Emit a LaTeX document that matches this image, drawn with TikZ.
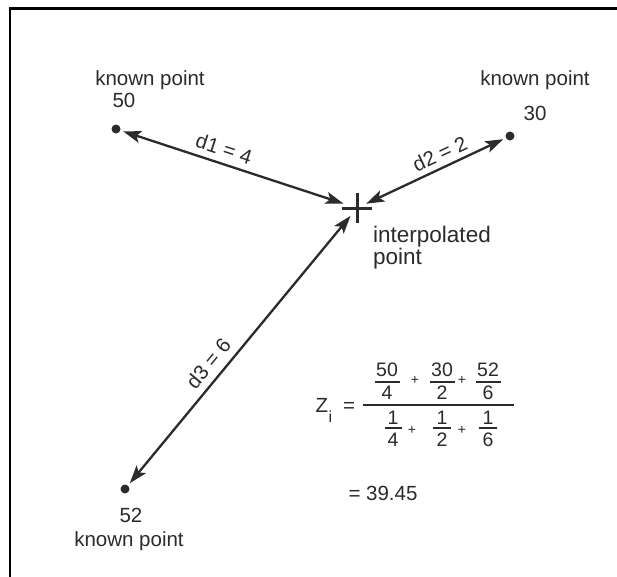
\documentclass[tikz,border=0pt]{standalone}
\usepackage{fontspec}
\setmainfont{Liberation Sans}
\usetikzlibrary{arrows.meta}
\definecolor{ink}{HTML}{2B2B2B}
\begin{document}
\begin{tikzpicture}[x=1pt,y=-1pt,
  font=\fontsize{20.5}{22}\selectfont,
  dot/.style={circle, fill=ink, inner sep=0pt, minimum size=9pt, outer sep=3pt},
  dist/.style={draw=ink, line width=2.3pt,
    {Stealth[length=18pt,width=12pt,inset=4pt]}-{Stealth[length=18pt,width=12pt,inset=4pt]}},
  lbl/.style={text=ink, inner sep=1pt},
  fr/.style={text=ink, inner sep=0pt, font=\fontsize{19.5}{20}\selectfont},
  plus/.style={text=ink, inner sep=0pt, font=\fontsize{14}{14}\selectfont},
  fbar/.style={draw=ink, line width=2pt},
  bigbar/.style={draw=ink, line width=2.6pt}]
\useasboundingbox (0,0) rectangle (617,576);
\fill[white] (0,0) rectangle (617,576);
\draw[line width=2.5pt] (10,580) -- (10,8.5) -- (620,8.5);

% points
\node[dot] (p50) at (116,129) {};
\node[dot] (p30) at (510,136) {};
\node[dot] (p52) at (125,489) {};
\node[circle, minimum size=20pt, inner sep=0pt] (ip) at (357,208) {};
\draw[ink, line width=3pt] (342,208) -- (372,208) (357,193) -- (357,223);

% labels
\node[lbl] (k50) at (150,80) {known point};
\node[lbl] (v50) at (124,100) {50};
\node[lbl] (k30) at (535,80) {known point};
\node[lbl] (v30) at (535,113) {30};
\node[lbl] (v52) at (131,515) {52};
\node[lbl] (k52) at (129,541) {known point};
\node[lbl, anchor=north west, align=left, font=\fontsize{22.5}{16}\selectfont] (ipl) at (372,225) {interpolated\\point};

% distances
\draw[dist, shorten >=4pt] (p50) -- node[lbl, sloped, above=5pt, pos=0.43] {d1 = 4} (ip);
\draw[dist] (ip) -- node[lbl, sloped, above=4pt, pos=0.58] {d2 = 2} (p30);
\draw[dist] (p52) -- node[lbl, sloped, above=6pt, pos=0.41] {d3 = 6} (ip);

% formula
\node[text=ink, inner sep=0pt] (z) at (322,405) {Z};
\node[text=ink, inner sep=0pt, font=\fontsize{16}{16}\selectfont] (zs) at (330.5,417) {i};
\node[text=ink, inner sep=0pt] (eq) at (349,407) {=};
\draw[bigbar] (363,405) -- (514,405);

\node[fr] (a1) at (387,370) {50};
\node[fr] (a2) at (387,393) {4};
\draw[fbar] (375,382) -- (400,382);
\node[plus] (pa1) at (415,380) {+};
\node[fr] (b1) at (442,370) {30};
\node[fr] (b2) at (442,393) {2};
\draw[fbar] (430,382) -- (455,382);
\node[plus] (pa2) at (462,380) {+};
\node[fr] (c1) at (488,370) {52};
\node[fr] (c2) at (488,393) {6};
\draw[fbar] (476,382) -- (501,382);

\node[fr] (d1) at (393,418) {1};
\node[fr] (d2) at (393,440) {4};
\draw[fbar] (385,428) -- (402,428);
\node[plus] (pb1) at (412,430) {+};
\node[fr] (e1) at (442,418) {1};
\node[fr] (e2) at (442,440) {2};
\draw[fbar] (433,428) -- (451,428);
\node[plus] (pb2) at (462,430) {+};
\node[fr] (g1) at (488,418) {1};
\node[fr] (g2) at (488,440) {6};
\draw[fbar] (479,428) -- (497,428);

\node[lbl] (res) at (383,493) {= 39.45};
\end{tikzpicture}
\end{document}
